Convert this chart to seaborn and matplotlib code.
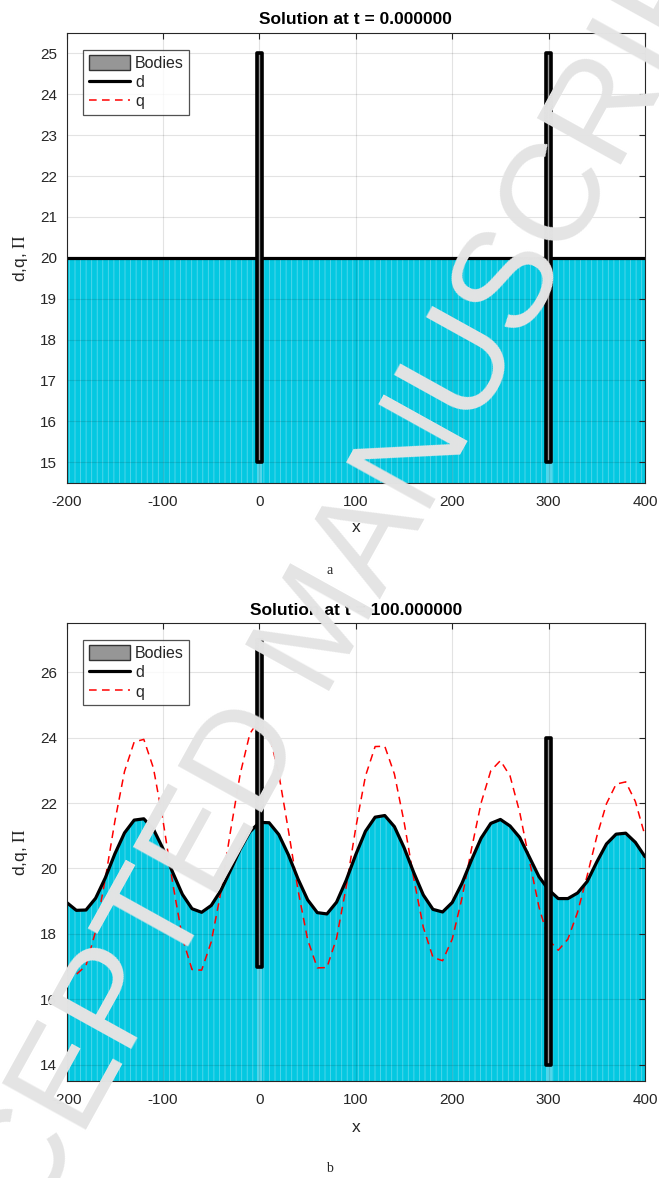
import numpy as np
import matplotlib
matplotlib.use("Agg")
import matplotlib.pyplot as plt
import seaborn as sns
from matplotlib.patches import Rectangle, Patch
from matplotlib.lines import Line2D

# ---------------- data ----------------
x_a = np.array([-200, 400])
d_a = np.array([20.0, 20.0])
q_a = np.array([20.0, 20.0])
bodies_x = [0, 300]
bodies_bot_a = [15, 15]
bodies_top_a = [25, 25]

x_b = np.arange(-200, 401, 10)
d_b = np.array([18.96, 18.72, 18.73, 19.09, 19.71, 20.45, 21.09, 21.48, 21.52, 21.20,
                20.60, 19.88, 19.21, 18.77, 18.66, 18.87, 19.33, 19.95, 20.59, 21.12,
                21.41, 21.40, 21.04, 20.42, 19.68, 19.04, 18.65, 18.61, 18.97, 19.64,
                20.43, 21.14, 21.57, 21.62, 21.28, 20.64, 19.88, 19.19, 18.75, 18.67,
                18.96, 19.54, 20.26, 20.93, 21.38, 21.50, 21.30, 20.95, 20.35, 19.75,
                19.35, 19.08, 19.08, 19.25, 19.60, 20.20, 20.75, 21.05, 21.08, 20.80,
                20.36])
q_b = np.array([17.00, 16.76, 17.03, 18.08, 19.68, 21.45, 22.97, 23.87, 23.95, 23.07,
                21.45, 19.55, 17.88, 16.91, 16.89, 17.76, 19.29, 21.15, 22.89, 24.12,
                24.57, 24.13, 22.90, 21.17, 19.34, 17.82, 16.96, 16.97, 17.87, 19.44,
                21.26, 22.83, 23.73, 23.74, 22.89, 21.43, 19.71, 18.20, 17.28, 17.18,
                17.84, 19.08, 20.60, 22.01, 22.99, 23.30, 22.83, 21.72, 20.25, 18.82,
                17.82, 17.50, 17.84, 18.66, 19.78, 20.98, 21.98, 22.58, 22.65, 22.05,
                21.00])
bodies_bot_b = [17, 14]
bodies_top_b = [27, 24]

x_ticks = [-200, -100, 0, 100, 200, 300, 400]
y_ticks_a = list(range(15, 26))
y_ticks_b = [14, 16, 18, 20, 22, 24, 26]
titles = ["Solution at t = 0.000000", "Solution at t = 100.000000"]
captions = ["a", "b"]
labels = ["Bodies", "d", "q"]
ylabel = r"d,q, $\Pi$"
watermark = "ACCEPTED MANUSCRIPT"

# ---------------- style ----------------
sns.set_theme(style="white")
plt.rcParams["font.family"] = ["Liberation Sans", "DejaVu Sans"]
plt.rcParams["mathtext.fontset"] = "stix"
plt.rcParams["hatch.linewidth"] = 0.6
plt.rcParams["hatch.color"] = "#5AD8EC"

CYAN = "#04C8E1"
LIGHT = "#52D6EA"
GRAYF = "#969696"
AXC = "#262626"

fig = plt.figure(figsize=(6.59, 11.78), dpi=100)
W, H = 659.0, 1178.0
ax_a = fig.add_axes([66.7 / W, 1 - 482.7 / H, (645 - 66.7) / W, (482.7 - 33) / H])
ax_b = fig.add_axes([66.7 / W, 1 - 1081 / H, (645 - 66.7) / W, (1081 - 623.3) / H])


def panel(ax, x, d, q, bbot, btop, ylim, yticks, title, title_pad):
    ax.set_xlim(-200, 400)
    ax.set_ylim(*ylim)
    ax.fill_between(x, d, ylim[0], facecolor=CYAN, edgecolor="#5AD8EC",
                    hatch="|||", linewidth=0, zorder=1)
    for xb, b0 in zip(bodies_x, bbot):
        ax.fill_between([xb - 3, xb + 3], ylim[0], b0, color=LIGHT, lw=0, zorder=1.5)
    sns.lineplot(x=x, y=q, ax=ax, color="red", lw=1.1, linestyle=(0, (5, 3.5)),
                 zorder=3, legend=False)
    sns.lineplot(x=x, y=d, ax=ax, color="black", lw=2.3, zorder=4, legend=False)
    for xb, b0, b1 in zip(bodies_x, bbot, btop):
        ax.add_patch(Rectangle((xb - 2.5, b0), 5, b1 - b0, facecolor=GRAYF,
                               edgecolor="black", lw=2.6, joinstyle="round", zorder=5))
    ax.set_xticks(x_ticks)
    ax.set_xticklabels([str(v) for v in x_ticks])
    ax.set_yticks(yticks)
    ax.grid(True, color="black", alpha=0.11, lw=0.8)
    ax.set_axisbelow(False)
    ax.tick_params(direction="in", top=True, right=True, length=4.5, width=0.8,
                   color=AXC, labelcolor=AXC, labelsize=11)
    ax.tick_params(axis="x", pad=8.5)
    ax.tick_params(axis="y", pad=7)
    for s in ax.spines.values():
        s.set_color(AXC)
        s.set_linewidth(0.8)
        s.set_zorder(6)
    ax.set_title(title, fontsize=12.5, fontweight="bold", color="black", pad=title_pad)
    ax.set_xlabel("x", fontsize=12.5, color=AXC)
    ax.set_ylabel(ylabel, fontsize=12.5, color=AXC)
    handles = [Patch(facecolor=GRAYF, edgecolor="#333333", lw=1),
               Line2D([], [], color="black", lw=2.3),
               Line2D([], [], color="red", lw=1.1, linestyle=(0, (5, 3.5)))]
    leg = ax.legend(handles, labels, loc="upper left", fontsize=11.5, frameon=True,
                    fancybox=False, handlelength=2.6, handleheight=1.05,
                    handletextpad=0.3, labelspacing=0.22, borderpad=0.32,
                    borderaxespad=1.05)
    leg.get_frame().set_edgecolor(AXC)
    leg.get_frame().set_linewidth(0.9)
    leg.set_zorder(10)


panel(ax_a, x_a, d_a, q_a, bodies_bot_a, bodies_top_a, (14.5, 25.5), y_ticks_a,
      titles[0], 6.5)
panel(ax_b, x_b, d_b, q_b, bodies_bot_b, bodies_top_b, (13.5, 27.5), y_ticks_b,
      titles[1], 6.0)

ax_a.xaxis.set_label_coords(0.5, -(527 - 482.7) / (482.7 - 33))
ax_b.xaxis.set_label_coords(0.5, -(1127 - 1081) / (1081 - 623.3))
for ax in (ax_a, ax_b):
    ax.xaxis.label.set_va("center")
    ax.yaxis.set_label_coords(-(66.7 - 20) / (645 - 66.7), 0.5)
    ax.yaxis.label.set_va("center")

fig.text(0.5, 1 - 570 / H, captions[0], family="Liberation Serif", fontsize=10,
         ha="center", va="center")
fig.text(0.5, 1 - 1168 / H, captions[1], family="Liberation Serif", fontsize=10,
         ha="center", va="center")

# watermark
fig.text(0.49, 0.466, watermark, rotation=61, rotation_mode="anchor",
         fontsize=100, color="#E4E4E4", ha="center", va="center", zorder=100)

fig.savefig("out.png", dpi=100)
